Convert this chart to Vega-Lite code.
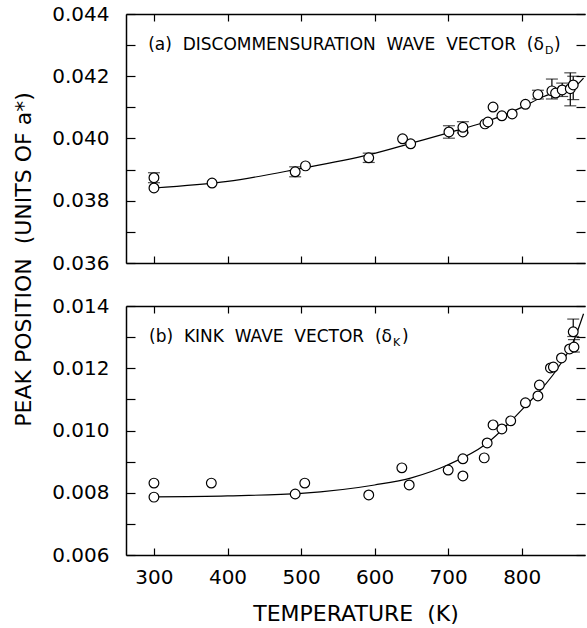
{
  "$schema": "https://vega.github.io/schema/vega-lite/v6.json",
  "padding": {"left": 12, "top": 4, "right": 0, "bottom": 6},
  "spacing": 43,
  "bounds": "flush",
  "config": {
    "view": {"stroke": null},
    "font": "DejaVu Sans",
    "axis": {
      "domainColor": "black", "tickColor": "black", "labelColor": "black", "titleColor": "black",
      "labelFont": "DejaVu Sans", "labelFontSize": 20, "titleFont": "DejaVu Sans", "titleFontSize": 22,
      "titleFontWeight": "normal", "grid": false, "domainWidth": 1.5, "tickWidth": 1.2
    }
  },
  "datasets": {
    "d": [
      {"p": "a", "k": "pt", "T": 300, "v": 0.03841},
      {"p": "a", "k": "pt", "T": 300, "v": 0.03874, "lo": 0.03858, "hi": 0.0389},
      {"p": "a", "k": "pt", "T": 379, "v": 0.03857},
      {"p": "a", "k": "pt", "T": 492, "v": 0.03893, "lo": 0.03877, "hi": 0.03909},
      {"p": "a", "k": "pt", "T": 506, "v": 0.03912},
      {"p": "a", "k": "pt", "T": 592, "v": 0.03938, "lo": 0.03923, "hi": 0.03953},
      {"p": "a", "k": "pt", "T": 638, "v": 0.03999},
      {"p": "a", "k": "pt", "T": 649, "v": 0.03983},
      {"p": "a", "k": "pt", "T": 701, "v": 0.04021, "lo": 0.04001, "hi": 0.04041},
      {"p": "a", "k": "pt", "T": 720, "v": 0.04021},
      {"p": "a", "k": "pt", "T": 720, "v": 0.04036, "lo": 0.04018, "hi": 0.04054},
      {"p": "a", "k": "pt", "T": 750, "v": 0.04047},
      {"p": "a", "k": "pt", "T": 754, "v": 0.04053},
      {"p": "a", "k": "pt", "T": 761, "v": 0.04101},
      {"p": "a", "k": "pt", "T": 773, "v": 0.04073},
      {"p": "a", "k": "pt", "T": 787, "v": 0.04079},
      {"p": "a", "k": "pt", "T": 805, "v": 0.0411},
      {"p": "a", "k": "pt", "T": 822, "v": 0.04141, "lo": 0.04127, "hi": 0.04155},
      {"p": "a", "k": "pt", "T": 841, "v": 0.04153, "lo": 0.04127, "hi": 0.04191},
      {"p": "a", "k": "pt", "T": 846, "v": 0.04146},
      {"p": "a", "k": "pt", "T": 855, "v": 0.04156, "lo": 0.04135, "hi": 0.04178},
      {"p": "a", "k": "pt", "T": 866, "v": 0.0416, "lo": 0.04105, "hi": 0.04211},
      {"p": "a", "k": "pt", "T": 870, "v": 0.04172, "lo": 0.04125, "hi": 0.042},
      {"p": "a", "k": "fit", "T": 300, "v": 0.03841},
      {"p": "a", "k": "fit", "T": 400, "v": 0.03862},
      {"p": "a", "k": "fit", "T": 500, "v": 0.03904},
      {"p": "a", "k": "fit", "T": 600, "v": 0.03952},
      {"p": "a", "k": "fit", "T": 650, "v": 0.03985},
      {"p": "a", "k": "fit", "T": 700, "v": 0.04018},
      {"p": "a", "k": "fit", "T": 750, "v": 0.04053},
      {"p": "a", "k": "fit", "T": 800, "v": 0.041},
      {"p": "a", "k": "fit", "T": 830, "v": 0.04135},
      {"p": "a", "k": "fit", "T": 850, "v": 0.0415},
      {"p": "a", "k": "fit", "T": 870, "v": 0.04163},
      {"p": "a", "k": "fit", "T": 884, "v": 0.04194},
      {"p": "a", "k": "lab", "T": 830, "v": 0.0430, "s": "(a)\u00a0\u00a0DISCOMMENSURATION\u00a0\u00a0WAVE\u00a0\u00a0VECTOR\u00a0\u00a0(δ"},
      {"p": "a", "k": "sub", "T": 831.6, "v": 0.0430, "s": "D"},
      {"p": "a", "k": "cls", "T": 843.9, "v": 0.0430, "s": ")"},
      {"p": "b", "k": "pt", "T": 300, "v": 0.00831},
      {"p": "b", "k": "pt", "T": 300, "v": 0.00786},
      {"p": "b", "k": "pt", "T": 378, "v": 0.00831},
      {"p": "b", "k": "pt", "T": 492, "v": 0.00796},
      {"p": "b", "k": "pt", "T": 505, "v": 0.00831},
      {"p": "b", "k": "pt", "T": 592, "v": 0.00793},
      {"p": "b", "k": "pt", "T": 637, "v": 0.0088},
      {"p": "b", "k": "pt", "T": 647, "v": 0.00825},
      {"p": "b", "k": "pt", "T": 700, "v": 0.00873},
      {"p": "b", "k": "pt", "T": 720, "v": 0.00854},
      {"p": "b", "k": "pt", "T": 720, "v": 0.00909},
      {"p": "b", "k": "pt", "T": 749, "v": 0.00912},
      {"p": "b", "k": "pt", "T": 753, "v": 0.0096},
      {"p": "b", "k": "pt", "T": 761, "v": 0.01018},
      {"p": "b", "k": "pt", "T": 773, "v": 0.01005},
      {"p": "b", "k": "pt", "T": 785, "v": 0.01031},
      {"p": "b", "k": "pt", "T": 805, "v": 0.01089},
      {"p": "b", "k": "pt", "T": 822, "v": 0.01111},
      {"p": "b", "k": "pt", "T": 824, "v": 0.01146},
      {"p": "b", "k": "pt", "T": 839, "v": 0.01201},
      {"p": "b", "k": "pt", "T": 843, "v": 0.01204},
      {"p": "b", "k": "pt", "T": 854, "v": 0.01233},
      {"p": "b", "k": "pt", "T": 865, "v": 0.01262},
      {"p": "b", "k": "pt", "T": 870, "v": 0.01317, "lo": 0.01302, "hi": 0.01358},
      {"p": "b", "k": "pt", "T": 871, "v": 0.01268, "lo": 0.01252, "hi": 0.01292},
      {"p": "b", "k": "fit", "T": 300, "v": 0.00787},
      {"p": "b", "k": "fit", "T": 400, "v": 0.0079},
      {"p": "b", "k": "fit", "T": 500, "v": 0.00798},
      {"p": "b", "k": "fit", "T": 600, "v": 0.00825},
      {"p": "b", "k": "fit", "T": 650, "v": 0.00848},
      {"p": "b", "k": "fit", "T": 700, "v": 0.0089},
      {"p": "b", "k": "fit", "T": 750, "v": 0.00954},
      {"p": "b", "k": "fit", "T": 800, "v": 0.01066},
      {"p": "b", "k": "fit", "T": 850, "v": 0.01204},
      {"p": "b", "k": "fit", "T": 870, "v": 0.01284},
      {"p": "b", "k": "fit", "T": 884, "v": 0.01375},
      {"p": "b", "k": "lab", "T": 623.6, "v": 0.0130, "s": "(b)\u00a0\u00a0KINK\u00a0\u00a0WAVE\u00a0\u00a0VECTOR\u00a0\u00a0(δ"},
      {"p": "b", "k": "sub", "T": 625, "v": 0.0130, "s": "K"},
      {"p": "b", "k": "cls", "T": 637.2, "v": 0.0130, "s": ")"}
    ]
  },
  "vconcat": [
    {
      "width": 459, "height": 249,
      "data": {"name": "d"},
      "transform": [{"filter": "datum.p == 'a'"}],
      "layer": [
        {
          "transform": [{"filter": "datum.k == 'fit'"}],
          "mark": {"type": "line", "interpolate": "monotone", "color": "black", "strokeWidth": 1.2},
          "encoding": {
            "x": {"field": "T", "type": "quantitative", "scale": {"domain": [262, 886], "nice": false, "zero": false},
                  "axis": {"orient": "bottom", "values": [300, 400, 500, 600, 700, 800], "labels": false, "title": null, "tickSize": -7}},
            "y": {"field": "v", "type": "quantitative", "scale": {"domain": [0.036, 0.044], "nice": false, "zero": false},
                  "axis": {"orient": "left", "values": [0.036, 0.037, 0.038, 0.039, 0.04, 0.041, 0.042, 0.043, 0.044],
                           "labelExpr": "round(datum.value*1000) % 2 == 0 ? format(datum.value, '.3f') : ''",
                           "tickSize": -9, "labelPadding": 26, "title": "PEAK POSITION\u00a0\u00a0(UNITS OF a*)", "titleY": 245, "titlePadding": 16}}
          }
        },
        {
          "transform": [{"filter": "isValid(datum.lo)"}],
          "mark": {"type": "rule", "color": "black", "strokeWidth": 1.2},
          "encoding": {
            "x": {"field": "T", "type": "quantitative", "axis": {"orient": "top", "values": [300, 400, 500, 600, 700, 800], "labels": false, "title": null, "tickSize": -7}},
            "y": {"field": "lo", "type": "quantitative", "axis": {"orient": "right", "values": [0.036, 0.037, 0.038, 0.039, 0.04, 0.041, 0.042, 0.043, 0.044], "labels": false, "title": null, "domain": false, "tickSize": -9}},
            "y2": {"field": "hi"}
          }
        },
        {
          "transform": [{"filter": "isValid(datum.lo)"}],
          "mark": {"type": "tick", "orient": "horizontal", "size": 12, "thickness": 1.2, "color": "black"},
          "encoding": {
            "x": {"field": "T", "type": "quantitative", "axis": null},
            "y": {"field": "lo", "type": "quantitative", "axis": null}
          }
        },
        {
          "transform": [{"filter": "isValid(datum.hi)"}],
          "mark": {"type": "tick", "orient": "horizontal", "size": 12, "thickness": 1.2, "color": "black"},
          "encoding": {
            "x": {"field": "T", "type": "quantitative", "axis": null},
            "y": {"field": "hi", "type": "quantitative", "axis": null}
          }
        },
        {
          "transform": [{"filter": "datum.k == 'pt'"}],
          "mark": {"type": "point", "shape": "circle", "filled": true, "fill": "white", "stroke": "black", "strokeWidth": 1.2, "size": 95, "opacity": 1},
          "encoding": {
            "x": {"field": "T", "type": "quantitative", "axis": null},
            "y": {"field": "v", "type": "quantitative", "axis": null}
          }
        },
        {
          "transform": [{"filter": "datum.k == 'lab'"}],
          "mark": {"type": "text", "align": "right", "baseline": "middle", "fontSize": 17, "color": "black"},
          "encoding": {
            "x": {"field": "T", "type": "quantitative", "axis": null},
            "y": {"field": "v", "type": "quantitative", "axis": null},
            "text": {"field": "s"}
          }
        },
        {
          "transform": [{"filter": "datum.k == 'sub'"}],
          "mark": {"type": "text", "align": "left", "baseline": "middle", "fontSize": 11, "dy": 6, "color": "black"},
          "encoding": {
            "x": {"field": "T", "type": "quantitative", "axis": null},
            "y": {"field": "v", "type": "quantitative", "axis": null},
            "text": {"field": "s"}
          }
        },
        {
          "transform": [{"filter": "datum.k == 'cls'"}],
          "mark": {"type": "text", "align": "left", "baseline": "middle", "fontSize": 17, "color": "black"},
          "encoding": {
            "x": {"field": "T", "type": "quantitative", "axis": null},
            "y": {"field": "v", "type": "quantitative", "axis": null},
            "text": {"field": "s"}
          }
        }
      ],
      "resolve": {"axis": {"x": "independent", "y": "independent"}}
    },
    {
      "width": 459, "height": 249,
      "data": {"name": "d"},
      "transform": [{"filter": "datum.p == 'b'"}],
      "layer": [
        {
          "transform": [{"filter": "datum.k == 'fit'"}],
          "mark": {"type": "line", "interpolate": "monotone", "color": "black", "strokeWidth": 1.2},
          "encoding": {
            "x": {"field": "T", "type": "quantitative", "scale": {"domain": [262, 886], "nice": false, "zero": false},
                  "axis": {"orient": "bottom", "values": [300, 400, 500, 600, 700, 800], "tickSize": -7, "labelPadding": 19, "title": "TEMPERATURE\u00a0\u00a0(K)", "titlePadding": 16}},
            "y": {"field": "v", "type": "quantitative", "scale": {"domain": [0.006, 0.014], "nice": false, "zero": false},
                  "axis": {"orient": "left", "values": [0.006, 0.007, 0.008, 0.009, 0.01, 0.011, 0.012, 0.013, 0.014],
                           "labelExpr": "round(datum.value*1000) % 2 == 0 ? format(datum.value, '.3f') : ''",
                           "tickSize": -9, "labelPadding": 26, "title": null}}
          }
        },
        {
          "transform": [{"filter": "isValid(datum.lo)"}],
          "mark": {"type": "rule", "color": "black", "strokeWidth": 1.2},
          "encoding": {
            "x": {"field": "T", "type": "quantitative", "axis": {"orient": "top", "values": [300, 400, 500, 600, 700, 800], "labels": false, "title": null, "tickSize": -7}},
            "y": {"field": "lo", "type": "quantitative", "axis": {"orient": "right", "values": [0.006, 0.007, 0.008, 0.009, 0.01, 0.011, 0.012, 0.013, 0.014], "labels": false, "title": null, "domain": false, "tickSize": -9}},
            "y2": {"field": "hi"}
          }
        },
        {
          "transform": [{"filter": "isValid(datum.lo)"}],
          "mark": {"type": "tick", "orient": "horizontal", "size": 12, "thickness": 1.2, "color": "black"},
          "encoding": {
            "x": {"field": "T", "type": "quantitative", "axis": null},
            "y": {"field": "lo", "type": "quantitative", "axis": null}
          }
        },
        {
          "transform": [{"filter": "isValid(datum.hi)"}],
          "mark": {"type": "tick", "orient": "horizontal", "size": 12, "thickness": 1.2, "color": "black"},
          "encoding": {
            "x": {"field": "T", "type": "quantitative", "axis": null},
            "y": {"field": "hi", "type": "quantitative", "axis": null}
          }
        },
        {
          "transform": [{"filter": "datum.k == 'pt'"}],
          "mark": {"type": "point", "shape": "circle", "filled": true, "fill": "white", "stroke": "black", "strokeWidth": 1.2, "size": 95, "opacity": 1},
          "encoding": {
            "x": {"field": "T", "type": "quantitative", "axis": null},
            "y": {"field": "v", "type": "quantitative", "axis": null}
          }
        },
        {
          "transform": [{"filter": "datum.k == 'lab'"}],
          "mark": {"type": "text", "align": "right", "baseline": "middle", "fontSize": 17, "color": "black"},
          "encoding": {
            "x": {"field": "T", "type": "quantitative", "axis": null},
            "y": {"field": "v", "type": "quantitative", "axis": null},
            "text": {"field": "s"}
          }
        },
        {
          "transform": [{"filter": "datum.k == 'sub'"}],
          "mark": {"type": "text", "align": "left", "baseline": "middle", "fontSize": 11, "dy": 6, "color": "black"},
          "encoding": {
            "x": {"field": "T", "type": "quantitative", "axis": null},
            "y": {"field": "v", "type": "quantitative", "axis": null},
            "text": {"field": "s"}
          }
        },
        {
          "transform": [{"filter": "datum.k == 'cls'"}],
          "mark": {"type": "text", "align": "left", "baseline": "middle", "fontSize": 17, "color": "black"},
          "encoding": {
            "x": {"field": "T", "type": "quantitative", "axis": null},
            "y": {"field": "v", "type": "quantitative", "axis": null},
            "text": {"field": "s"}
          }
        }
      ],
      "resolve": {"axis": {"x": "independent", "y": "independent"}}
    }
  ]
}
